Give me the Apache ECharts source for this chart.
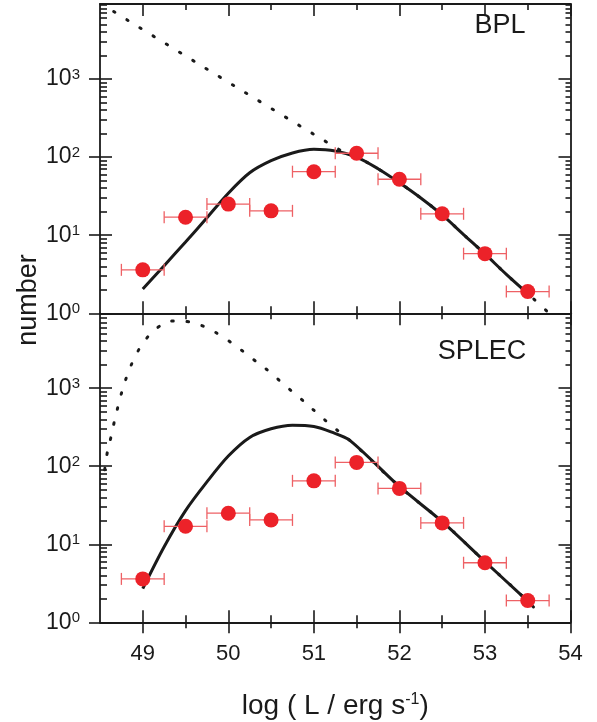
<!DOCTYPE html>
<html>
<head>
<meta charset="utf-8">
<script src="https://cdn.jsdelivr.net/npm/echarts@6/dist/echarts.min.js"></script>
<style>
html, body { margin: 0; padding: 0; background: #fff; }
#chart { width: 597px; height: 722px; }
</style>
</head>
<body>
<div id="chart"></div>
<script>
// observed luminosity function (same in both panels)
var lumBins = [49, 49.5, 50, 50.5, 51, 51.5, 52, 52.5, 53, 53.5];
var lumErr = [0.25, 0.25, 0.25, 0.25, 0.25, 0.25, 0.25, 0.25, 0.25, 0.25];
var counts = [3.6, 17, 25, 20.5, 65, 112, 52, 18.8, 5.8, 1.9];

// BPL model: expected (solid) and intrinsic (dotted)
var bplX = [49.0, 49.25, 49.5, 49.75, 50.0, 50.25, 50.5, 50.75, 51.0, 51.25, 51.5, 51.75, 52.0, 52.25, 52.5, 52.75, 53.0, 53.25, 53.55];
var bplY = [2.05, 4.07, 8.2, 16.7, 34.5, 63, 90, 113, 126, 120, 100, 71, 47, 30, 18.2, 10.2, 5.75, 3.15, 1.6];
var bplIntrX = [48.66, 51.35, 51.5, 51.75, 52.0, 52.25, 52.5, 52.75, 53.0, 53.25, 53.55, 53.75];
var bplIntrY = [7300, 115, 100, 71, 47, 30, 18.2, 10.2, 5.75, 3.15, 1.6, 1.0];

// SPLEC model
var splecX = [49.0, 49.25, 49.5, 49.75, 50.0, 50.25, 50.5, 50.75, 51.0, 51.2, 51.42, 52.0, 52.5, 53.0, 53.45];
var splecY = [2.7, 9.3, 27, 63, 135, 234, 302, 336, 324, 276, 215, 55, 19.5, 6.0, 2.1];
var splecIntrX = [48.555, 48.58, 48.625, 48.665, 48.71, 48.76, 48.82, 48.9, 49.01, 49.17, 49.36, 49.55, 49.74, 49.915, 50.1, 50.29, 50.48, 50.66, 50.85, 51.03, 51.22, 51.42, 52.0, 52.5, 53.0, 53.45, 53.64];
var splecIntrY = [90, 140, 229, 363, 581, 933, 1480, 2400, 3870, 5950, 7280, 7050, 6000, 4690, 3400, 2350, 1630, 1090, 728, 488, 322, 215, 55, 19.5, 6.0, 2.1, 1.3];

// axis ticks
var xMajor = [49, 50, 51, 52, 53, 54];
var xMinor = [49.5, 50.5, 51.5, 52.5, 53.5];
var yDecades = [0, 1, 2, 3];

var X_MIN = 48.5, X_MAX = 54;
var Y_MIN = 1, Y_MAX = 9120;
var EXP_MAX = Math.log10(Y_MAX);

var FONT = '"Liberation Sans", Arial, sans-serif';
var INK = '#1a1a1a';
var RED = '#ec2229';
var ERR = '#ee6165';

var yMinor = [];
yDecades.forEach(function (d) {
    for (var k = 2; k <= 9; k++) {
        var e = d + Math.log10(k);
        if (e < EXP_MAX) yMinor.push(e);
    }
});

var zip = function (xs, ys) {
    return xs.map(function (x, i) { return [x, ys[i]]; });
};

var tickAxis = function (extra) {
    var ax = {
        type: 'value',
        axisLine: { show: false, onZero: false },
        axisLabel: { show: false },
        splitLine: { show: false },
        axisTick: { show: true, lineStyle: { color: INK, width: 1.6 } }
    };
    for (var k in extra) {
        if (k === 'axisTick') {
            for (var t in extra.axisTick) ax.axisTick[t] = extra.axisTick[t];
        } else {
            ax[k] = extra[k];
        }
    }
    return ax;
};

var frameLine = { show: true, onZero: false, lineStyle: { color: INK, width: 1.8 } };

var xAxes = [];
var yAxes = [];
var dataX = [];
var dataY = [];
[0, 1].forEach(function (g) {
    var mk = function (pos, vals, len, inside, more) {
        var o = { gridIndex: g, position: pos, min: X_MIN, max: X_MAX,
                  axisTick: { customValues: vals, length: len, inside: inside } };
        for (var k in (more || {})) o[k] = more[k];
        return tickAxis(o);
    };
    dataX.push(xAxes.length);
    if (g === 0) {
        xAxes.push(mk('bottom', xMajor, 12, true, { axisLine: frameLine }));
    } else {
        xAxes.push(mk('bottom', xMajor, 12, true, {
            axisLine: frameLine,
            axisLabel: { show: true, customValues: xMajor, margin: 21, fontSize: 22, fontFamily: FONT, color: INK },
            name: '{t|log ( L / erg s}{u|-1}{t|)}',
            nameLocation: 'middle',
            nameGap: 69,
            nameTextStyle: {
                rich: {
                    t: { fontSize: 28, fontFamily: FONT, color: INK, lineHeight: 30 },
                    u: { fontSize: 16, fontFamily: FONT, color: INK, verticalAlign: 'top', lineHeight: 17 }
                }
            }
        }));
        xAxes.push(mk('bottom', xMajor, 11, false));
        xAxes.push(mk('bottom', xMinor, 6, false));
    }
    xAxes.push(mk('bottom', xMinor, 7, true));
    xAxes.push(mk('top', xMajor, 12, true, { axisLine: frameLine }));
    xAxes.push(mk('top', xMinor, 6, true));

    // data axis (log scale)
    dataY.push(yAxes.length);
    yAxes.push({
        type: 'log', gridIndex: g, position: 'left', min: Y_MIN, max: Y_MAX,
        axisLine: frameLine, axisTick: { show: false }, axisLabel: { show: false },
        splitLine: { show: false }
    });
    var my = function (pos, vals, len, inside, more) {
        var o = { gridIndex: g, position: pos, min: 0, max: EXP_MAX,
                  axisTick: { customValues: vals, length: len, inside: inside } };
        for (var k in (more || {})) o[k] = more[k];
        return tickAxis(o);
    };
    yAxes.push(my('left', yDecades, 12, true, {
        axisLabel: {
            show: true, customValues: yDecades, margin: 20, fontSize: 23, fontFamily: FONT, color: INK,
            formatter: function (v) { return '{b|10}{s|' + Math.round(v) + '}'; },
            rich: {
                b: { fontSize: 23, fontFamily: FONT, color: INK, lineHeight: 24 },
                s: { fontSize: 15, fontFamily: FONT, color: INK, verticalAlign: 'top', lineHeight: 15 }
            }
        }
    }));
    yAxes.push(my('left', yDecades, 11, false));
    yAxes.push(my('left', yMinor, 7, true));
    yAxes.push(my('right', yDecades, 12, true, { axisLine: frameLine }));
    yAxes.push(my('right', yMinor, 5, true));
});

var errRender = function (params, api) {
    var x = api.value(0), y = api.value(1), e = api.value(2);
    var l = api.coord([x - e, y]);
    var r = api.coord([x + e, y]);
    var h = 6;
    var st = { stroke: ERR, lineWidth: 1.3 };
    return {
        type: 'group',
        children: [
            { type: 'line', shape: { x1: l[0], y1: l[1], x2: r[0], y2: r[1] }, style: st },
            { type: 'line', shape: { x1: l[0], y1: l[1] - h, x2: l[0], y2: l[1] + h }, style: st },
            { type: 'line', shape: { x1: r[0], y1: r[1] - h, x2: r[0], y2: r[1] + h }, style: st }
        ]
    };
};

var panelSeries = function (g, modelX, modelY, intrX, intrY) {
    var withBase = function (o) { o.xAxisIndex = dataX[g]; o.yAxisIndex = dataY[g]; return o; };
    return [
        withBase({
            type: 'line', data: zip(intrX, intrY), smooth: 0.4, symbol: 'none', z: 2,
            lineStyle: { color: INK, width: 3, type: [1.5, 14], cap: 'round' }
        }),
        withBase({
            type: 'line', data: zip(modelX, modelY), smooth: 0.3, symbol: 'none', z: 3,
            lineStyle: { color: INK, width: 3 }
        }),
        withBase({
            type: 'custom', renderItem: errRender, z: 4,
            encode: { x: 0, y: 1 },
            data: lumBins.map(function (x, i) { return [x, counts[i], lumErr[i]]; })
        }),
        withBase({
            type: 'scatter', data: zip(lumBins, counts), symbol: 'circle', symbolSize: 15, z: 5,
            itemStyle: { color: RED, opacity: 1 }
        })
    ];
};

var chart = echarts.init(document.getElementById('chart'), null, { renderer: 'canvas' });
chart.setOption({
    animation: false,
    backgroundColor: '#fff',
    grid: [
        { left: 100, top: 4, width: 470.5, height: 309.3 },
        { left: 100, top: 313.3, width: 470.5, height: 309 }
    ],
    xAxis: xAxes,
    yAxis: yAxes,
    graphic: [
        { type: 'text', x: 29, y: 300, rotation: Math.PI / 2,
          style: { text: 'number', font: '27px "Liberation Sans", Arial', fill: INK,
                   align: 'center', verticalAlign: 'middle', textAlign: 'center', textVerticalAlign: 'middle' } },
        { type: 'text', x: 500, y: 26,
          style: { text: 'BPL', font: '27px "Liberation Sans", Arial', fill: INK,
                   align: 'center', verticalAlign: 'middle', textAlign: 'center', textVerticalAlign: 'middle' } },
        { type: 'text', x: 482, y: 352,
          style: { text: 'SPLEC', font: '27px "Liberation Sans", Arial', fill: INK,
                   align: 'center', verticalAlign: 'middle', textAlign: 'center', textVerticalAlign: 'middle' } }
    ],
    series: panelSeries(0, bplX, bplY, bplIntrX, bplIntrY)
        .concat(panelSeries(1, splecX, splecY, splecIntrX, splecIntrY))
});
</script>
</body>
</html>
